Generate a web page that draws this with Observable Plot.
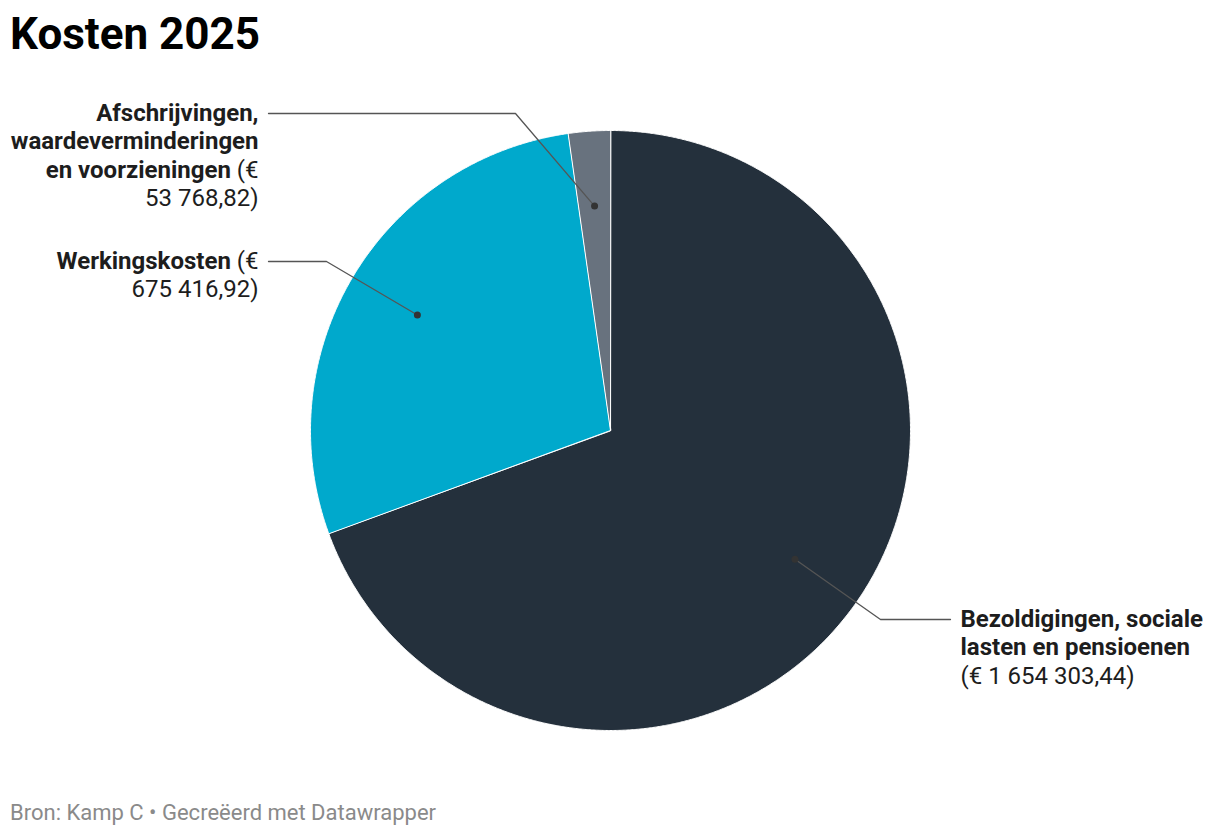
<!DOCTYPE html>
<html>
<head>
<meta charset="utf-8">
<script src="https://cdn.jsdelivr.net/npm/d3@7"></script>
<script src="https://cdn.jsdelivr.net/npm/@observablehq/plot@0.6"></script>
<style>
  html, body { margin: 0; padding: 0; background: #fff; }
  body { width: 1220px; height: 836px; position: relative; font-family: Roboto, sans-serif; }
  #title { position: absolute; left: 10px; top: 12px; font-size: 44px; line-height: 1; font-weight: 700; color: #000; }
  #chart { position: absolute; left: 0; top: 70px; }
  #footer { position: absolute; left: 10px; top: 802px; font-size: 22px; line-height: 1; color: #8a8a8a; }
</style>
</head>
<body>
<div id="title">Kosten 2025</div>
<div id="chart"></div>
<div id="footer">Bron: Kamp C • Gecreëerd met Datawrapper</div>
<script>
// ---- data ----
const categories = [
  "Bezoldigingen, sociale lasten en pensioenen",
  "Werkingskosten",
  "Afschrijvingen, waardeverminderingen en voorzieningen"
];
const values = [1654303.44, 675416.92, 53768.82];
const colors = ["#24303c", "#00a9cc", "#68727e"];
// label text as wrapped in the picture (name in bold, value regular)
const labelTexts = [
  "Bezoldigingen, sociale\nlasten en pensioenen\n(€ 1 654 303,44)",
  "Werkingskosten (€\n675 416,92)",
  "Afschrijvingen,\nwaardeverminderingen\nen voorzieningen (€\n53 768,82)"
];

// ---- label layout (in pie-radius units) ----
const labelSide = ["right", "left", "left"];
const labelElbow = [[0.9, -0.63], [-0.9467, 0.5633], [-0.3167, 1.0567]];
const labelEnd = [[1.1333, -0.63], [-1.14, 0.5633], [-1.14, 1.0567]];
const labelTextX = [1.1667, -1.1733, -1.1733];
const anchorRadius = 0.75;

const rows = categories.map((c, i) => ({category: c, value: values[i], label: labelTexts[i], side: labelSide[i]}));
const arcs = d3.pie().sort(null).value(d => d.value)(rows);

const polys = arcs.flatMap(a => {
  const n = Math.max(2, Math.ceil((a.endAngle - a.startAngle) / (Math.PI / 720)));
  const pts = [{category: a.data.category, x: 0, y: 0}];
  for (let k = 0; k <= n; k++) {
    const t = a.startAngle + (a.endAngle - a.startAngle) * k / n;
    pts.push({category: a.data.category, x: Math.sin(t), y: Math.cos(t)});
  }
  return pts;
});

const dots = arcs.map(a => {
  const m = (a.startAngle + a.endAngle) / 2;
  return {category: a.data.category, x: anchorRadius * Math.sin(m), y: anchorRadius * Math.cos(m)};
});

const leaders = dots.flatMap((d, i) => [
  {category: d.category, x: d.x, y: d.y},
  {category: d.category, x: labelElbow[i][0], y: labelElbow[i][1]},
  {category: d.category, x: labelEnd[i][0], y: labelEnd[i][1]}
]);

const texts = rows.map((r, i) => ({...r, x: labelTextX[i], y: labelEnd[i][1]}));

const textOpts = {x: "x", y: "y", text: "label", lineAnchor: "top", lineHeight: 1.19, dy: -13, fill: "#1d1d1d", fontSize: 24};

const plot = Plot.plot({
  width: 1220,
  height: 720,
  margin: 0,
  x: {domain: [-1, 1], range: [310, 910], axis: null},
  y: {domain: [-1, 1], range: [660, 60], axis: null},
  color: {domain: categories, range: colors},
  style: {fontFamily: "Roboto, sans-serif", fontSize: "24px", background: "transparent", overflow: "visible"},
  marks: [
    Plot.line(polys, {x: "x", y: "y", z: "category", fill: "category", stroke: "white", strokeWidth: 1, curve: "linear-closed"}),
    Plot.line(leaders, {x: "x", y: "y", z: "category", stroke: "#555", strokeWidth: 1.3}),
    Plot.dot(dots, {x: "x", y: "y", r: 3.5, fill: "#333", stroke: null}),
    Plot.text(texts.filter(d => d.side === "left"), {...textOpts, textAnchor: "end"}),
    Plot.text(texts.filter(d => d.side === "right"), {...textOpts, textAnchor: "start"})
  ]
});

// name part bold, value part (from "(") regular
const NS = "http://www.w3.org/2000/svg";
plot.querySelectorAll("text").forEach(t => {
  const spans = Array.from(t.querySelectorAll("tspan"));
  if (!spans.length) return;
  let inValue = false;
  spans.forEach(sp => {
    const s = sp.textContent;
    let boldPart = "", normalPart = "";
    if (inValue) normalPart = s;
    else {
      const idx = s.indexOf("(");
      if (idx < 0) boldPart = s;
      else { boldPart = s.slice(0, idx); normalPart = s.slice(idx); inValue = true; }
    }
    sp.textContent = "";
    if (boldPart) { const b = document.createElementNS(NS, "tspan"); b.setAttribute("font-weight", "700"); b.textContent = boldPart; sp.appendChild(b); }
    if (normalPart) { const n = document.createElementNS(NS, "tspan"); n.setAttribute("font-weight", "400"); n.textContent = normalPart; sp.appendChild(n); }
  });
});

document.getElementById("chart").appendChild(plot);
</script>
</body>
</html>
